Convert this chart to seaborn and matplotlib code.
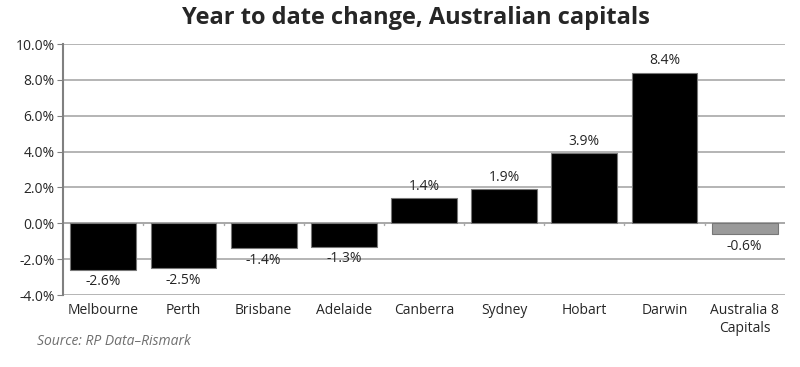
import numpy as np
import pandas as pd
import seaborn as sns
import matplotlib.pyplot as plt
from matplotlib.ticker import FuncFormatter

cities = ['Melbourne', 'Perth', 'Brisbane', 'Adelaide', 'Canberra',
          'Sydney', 'Hobart', 'Darwin', 'Australia 8\nCapitals']
change = [-2.6, -2.5, -1.4, -1.3, 1.4, 1.9, 3.9, 8.4, -0.6]
colors = ['black'] * 8 + ['#9a9a9a']

df = pd.DataFrame({'city': cities, 'change': change})

sns.set_style('white')
plt.rcParams['font.family'] = ['Open Sans', 'DejaVu Sans']

fig = plt.figure(figsize=(8, 3.67), dpi=100)
ax = fig.add_axes([0.079, 0.196, 0.902, 0.684])

sns.barplot(data=df, x='city', y='change', hue='city', palette=colors,
            legend=False, width=0.82, edgecolor='#777777', linewidth=0.8,
            saturation=1, ax=ax, zorder=3)

ax.set_ylim(-4, 10)
ax.set_xlim(-0.5, len(cities) - 0.5)
ax.set_yticks(np.arange(-4, 10.1, 2))
ax.yaxis.set_major_formatter(FuncFormatter(lambda v, p: f'{v:.1f}%'))
ax.grid(axis='y', color='#a8a8a8', linewidth=1.2, zorder=0)
ax.set_axisbelow(True)

# zero line with Excel style category ticks
ax.axhline(0, color='#a8a8a8', linewidth=1.2, zorder=2)
for b in np.arange(0.5, len(cities) - 1, 1):
    ax.plot([b, b], [0, -0.12], color='#a8a8a8', linewidth=1, zorder=2)

for s in ['top', 'right', 'bottom']:
    ax.spines[s].set_visible(False)
ax.spines['left'].set_color('#808080')
ax.spines['left'].set_linewidth(1.5)
ax.tick_params(axis='y', labelsize=10, length=4, color='#808080', pad=2, left=True)
ax.tick_params(axis='x', labelsize=10, length=0, pad=6)
ax.set_xlabel('')
ax.set_ylabel('')

for i, v in enumerate(change):
    if v >= 0:
        ax.text(i, v + 0.25, f'{v:.1f}%', ha='center', va='bottom', fontsize=10)
    else:
        ax.text(i, v - 0.25, f'{v:.1f}%', ha='center', va='top', fontsize=10)

fig.suptitle('Year to date change, Australian capitals', fontsize=17,
             fontweight='bold', x=0.52, y=0.985)
fig.text(0.046, 0.06, 'Source: RP Data\u2013Rismark', fontsize=10,
         style='italic', color='#6f6f6f')

fig.savefig('out.png', dpi=100)
